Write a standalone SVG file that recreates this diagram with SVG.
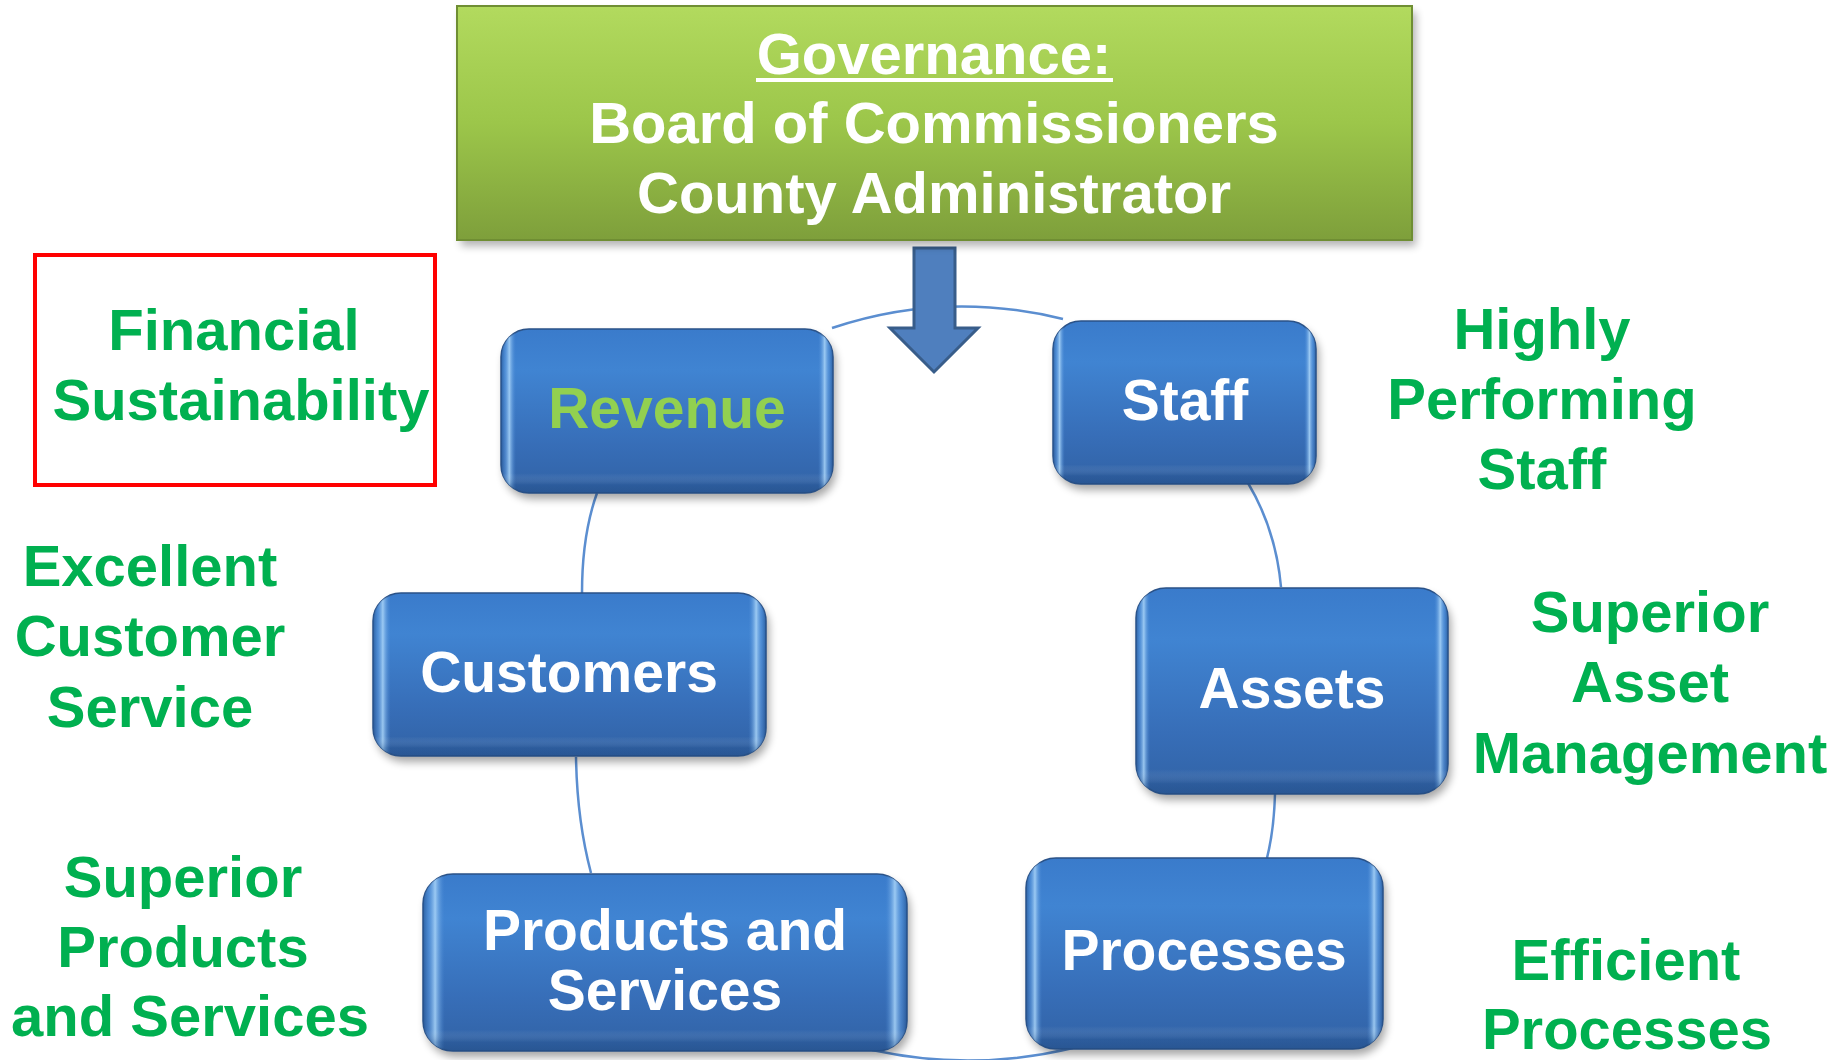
<svg xmlns="http://www.w3.org/2000/svg" width="1837" height="1060" viewBox="0 0 1837 1060">
<defs>
<linearGradient id="greenG" x1="0" y1="0" x2="0" y2="1">
<stop offset="0" stop-color="#B2DA5E"/>
<stop offset="0.5" stop-color="#9CC64A"/>
<stop offset="1" stop-color="#7E9F3B"/>
</linearGradient>
<linearGradient id="blueV" x1="0" y1="0" x2="0" y2="1">
<stop offset="0" stop-color="#3A7BCB"/>
<stop offset="0.25" stop-color="#4084D2"/>
<stop offset="0.7" stop-color="#376EB8"/>
<stop offset="1" stop-color="#3162A5"/>
</linearGradient>
<linearGradient id="blueH" x1="0" y1="0" x2="1" y2="0">
<stop offset="0" stop-color="#1E4A85" stop-opacity="0.6"/>
<stop offset="0.012" stop-color="#5C97DA" stop-opacity="0.5"/>
<stop offset="0.025" stop-color="#A6D2F7" stop-opacity="0.9"/>
<stop offset="0.045" stop-color="#4A8AD6" stop-opacity="0"/>
<stop offset="0.955" stop-color="#4A8AD6" stop-opacity="0"/>
<stop offset="0.975" stop-color="#A6D2F7" stop-opacity="0.9"/>
<stop offset="0.988" stop-color="#5C97DA" stop-opacity="0.5"/>
<stop offset="1" stop-color="#1E4A85" stop-opacity="0.6"/>
</linearGradient>
<linearGradient id="blueTop" x1="0" y1="0" x2="0" y2="1">
<stop offset="0" stop-color="#FFFFFF" stop-opacity="0"/>
<stop offset="0.88" stop-color="#FFFFFF" stop-opacity="0"/>
<stop offset="0.95" stop-color="#1C4479" stop-opacity="0.25"/>
<stop offset="1" stop-color="#1C4479" stop-opacity="0.4"/>
</linearGradient>
<filter id="shadow" x="-10%" y="-10%" width="120%" height="130%">
<feGaussianBlur stdDeviation="4"/>
</filter>
<style>
.node-shadow{fill:#000;opacity:0.35;filter:url(#shadow)}
.box{fill:url(#blueV);stroke:#2A5288;stroke-width:1.5}
.gloss{fill:url(#blueH)}
.edge{fill:url(#blueTop)}
.lbl{font-family:"Liberation Sans",Arial,Helvetica,sans-serif;font-weight:bold;font-size:57px;fill:#FFFFFF;text-anchor:middle}
.goal{font-family:"Liberation Sans",Arial,Helvetica,sans-serif;font-weight:bold;font-size:58px;fill:#00B050;text-anchor:middle}
.gov{font-family:"Liberation Sans",Arial,Helvetica,sans-serif;font-weight:bold;font-size:58px;fill:#FFFFFF;text-anchor:middle}
.arc{fill:none;stroke:#5B8ED0;stroke-width:2.5}
</style>
</defs>
<rect width="1837" height="1060" fill="#FFFFFF"/>

<g id="connectors">
<path class="arc" d="M832,328 Q945,290 1063,319"/>
<path class="arc" d="M597,493 Q582,535 582,593"/>
<path class="arc" d="M576,757 Q577,820 591,873"/>
<path class="arc" d="M872,1050 Q972,1072 1073,1048"/>
<path class="arc" d="M1275,794 Q1274,830 1267,858"/>
<path class="arc" d="M1248,483 Q1276,530 1281,587"/>
<g id="governance-arrow">
<path d="M914,248 L955,248 L955,328 L978,328 L934,372 L890,328 L914,328 Z" fill="#4F7FBE" stroke="#385D8A" stroke-width="3" stroke-linejoin="miter"/>
</g>
</g>

<g id="governance">
<rect x="461" y="12" width="955" height="234" fill="#000" opacity="0.3" filter="url(#shadow)"/>
<rect x="457" y="6" width="955" height="234" fill="url(#greenG)" stroke="#6F8E33" stroke-width="2"/>
<text class="gov" x="934" y="74">Governance:</text>
<rect x="756" y="78" width="357" height="4" fill="#FFFFFF"/>
<text class="gov" x="934" y="143">Board of Commissioners</text>
<text class="gov" x="934" y="213">County Administrator</text>
</g>

<g id="revenue">
<rect class="node-shadow" x="504" y="335" width="332" height="164" rx="28"/>
<rect class="box" x="501" y="329" width="332" height="164" rx="28"/>
<rect class="gloss" x="501" y="329" width="332" height="164" rx="28"/>
<rect class="edge" x="501" y="329" width="332" height="164" rx="28"/>
<text class="lbl" x="667" y="428" style="fill:#92D050">Revenue</text>
</g>

<g id="staff">
<rect class="node-shadow" x="1056" y="327" width="263" height="163" rx="28"/>
<rect class="box" x="1053" y="321" width="263" height="163" rx="28"/>
<rect class="gloss" x="1053" y="321" width="263" height="163" rx="28"/>
<rect class="edge" x="1053" y="321" width="263" height="163" rx="28"/>
<text class="lbl" x="1185" y="420">Staff</text>
</g>

<g id="customers">
<rect class="node-shadow" x="376" y="599" width="393" height="163" rx="28"/>
<rect class="box" x="373" y="593" width="393" height="163" rx="28"/>
<rect class="gloss" x="373" y="593" width="393" height="163" rx="28"/>
<rect class="edge" x="373" y="593" width="393" height="163" rx="28"/>
<text class="lbl" x="569" y="692">Customers</text>
</g>

<g id="assets">
<rect class="node-shadow" x="1139" y="594" width="312" height="206" rx="30"/>
<rect class="box" x="1136" y="588" width="312" height="206" rx="30"/>
<rect class="gloss" x="1136" y="588" width="312" height="206" rx="30"/>
<rect class="edge" x="1136" y="588" width="312" height="206" rx="30"/>
<text class="lbl" x="1292" y="708">Assets</text>
</g>

<g id="products">
<rect class="node-shadow" x="426" y="880" width="484" height="177" rx="30"/>
<rect class="box" x="423" y="874" width="484" height="177" rx="30"/>
<rect class="gloss" x="423" y="874" width="484" height="177" rx="30"/>
<rect class="edge" x="423" y="874" width="484" height="177" rx="30"/>
<text class="lbl" x="665" y="950">Products and</text>
<text class="lbl" x="665" y="1010">Services</text>
</g>

<g id="processes">
<rect class="node-shadow" x="1029" y="864" width="357" height="191" rx="30"/>
<rect class="box" x="1026" y="858" width="357" height="191" rx="30"/>
<rect class="gloss" x="1026" y="858" width="357" height="191" rx="30"/>
<rect class="edge" x="1026" y="858" width="357" height="191" rx="30"/>
<text class="lbl" x="1204" y="970">Processes</text>
</g>

<g id="goal-financial">
<rect x="35" y="255" width="400" height="230" fill="none" stroke="#FF0000" stroke-width="4"/>
<text class="goal" x="234" y="350">Financial</text>
<text class="goal" x="241" y="420">Sustainability</text>
</g>

<g id="goal-staff">
<text class="goal" x="1542" y="349">Highly</text>
<text class="goal" x="1542" y="419">Performing</text>
<text class="goal" x="1542" y="489">Staff</text>
</g>

<g id="goal-customer">
<text class="goal" x="150" y="586">Excellent</text>
<text class="goal" x="150" y="656">Customer</text>
<text class="goal" x="150" y="727">Service</text>
</g>

<g id="goal-assets">
<text class="goal" x="1650" y="632">Superior</text>
<text class="goal" x="1650" y="702">Asset</text>
<text class="goal" x="1650" y="773">Management</text>
</g>

<g id="goal-products">
<text class="goal" x="183" y="897">Superior</text>
<text class="goal" x="183" y="967">Products</text>
<text class="goal" x="190" y="1036">and Services</text>
</g>

<g id="goal-processes">
<text class="goal" x="1626" y="980">Efficient</text>
<text class="goal" x="1627" y="1049">Processes</text>
</g>
</svg>
